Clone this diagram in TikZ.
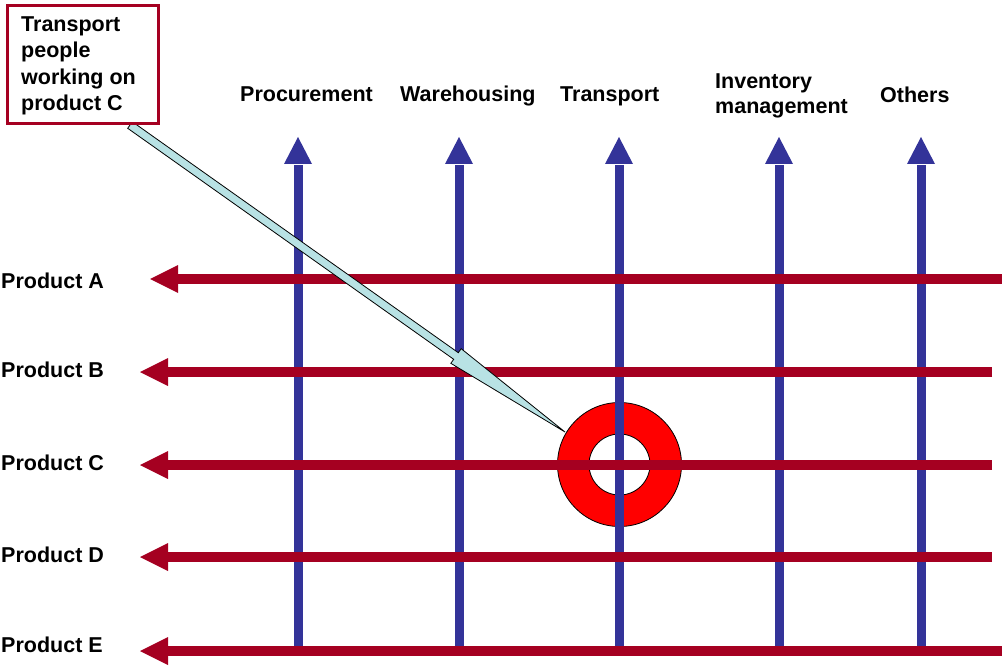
\documentclass[tikz,border=0pt]{standalone}
\usepackage{fontspec}
\setmainfont{Liberation Sans}
\definecolor{gridblue}{HTML}{333399}
\definecolor{gridred}{HTML}{A50021}
\definecolor{callfill}{HTML}{B8E2E4}
\begin{document}
\begin{tikzpicture}[x=1pt,y=-1pt,
  lbl/.style={font=\fontsize{21.5}{26}\selectfont\bfseries, inner sep=0pt},
  vshaft/.style={draw=gridblue, line width=9pt},
  hshaft/.style={draw=gridred, line width=9.5pt}]
\useasboundingbox (0,0) rectangle (1002,666);
% ring
\coordinate (ring) at (619.5,464.5);
\draw[fill=red, even odd rule, line width=0.8pt] (ring) circle[radius=62] (ring) circle[radius=30.5];
% vertical arrows
\foreach \name/\x in {proc/298, ware/459, trans/619, inv/779, oth/921} {
  \coordinate (\name-bot) at (\x,647);
  \coordinate (\name-base) at (\x,164);
  \coordinate (\name-tip) at (\x,137);
  \draw[vshaft] (\name-bot) -- ([yshift=-1pt]\name-base);
  \fill[gridblue] ([xshift=-14pt]\name-base) -- (\name-tip) -- ([xshift=14pt]\name-base) -- cycle;
}
% horizontal arrows
\foreach \name/\y/\r/\t/\b in {A/279/1002/150/288, B/372/992/140/377, C/465/992/140/470, D/557/992/140/562, E/651/1002/140/652} {
  \coordinate (r\name-end) at (\r,\y);
  \coordinate (r\name-tip) at (\t,\y);
  \coordinate (r\name-base) at (\t+28,\y);
  \draw[hshaft] (r\name-end) -- ([xshift=-1pt]r\name-base);
  \fill[gridred] ([yshift=-14pt]r\name-base) -- (r\name-tip) -- ([yshift=14pt]r\name-base) -- cycle;
  \node[lbl, anchor=base west] (lab\name) at (1,\b) {Product \name};
}
% column labels
\node[lbl, anchor=base west] (lproc) at (240,102) {Procurement};
\node[lbl, anchor=base west] (lware) at (400,102) {Warehousing};
\node[lbl, anchor=base west] (ltrans) at (560,102) {Transport};
\node[lbl, anchor=base west] (linv1) at (715,89) {Inventory};
\node[lbl, anchor=base west] (linv2) at (715,114) {management};
\node[lbl, anchor=base west] (loth) at (880,102.5) {Others};
% callout pointer
\coordinate (ptip) at (565,432);
\draw[fill=callfill, line width=0.8pt, line join=miter]
  (127.7,128.3) -- (132.3,121.7) -- (458.3,352.7) -- (461.2,348.7) -- (ptip)
  -- (450.8,363.3) -- (453.7,359.3) -- cycle;
% callout box
\node[draw=gridred, line width=2.6pt, fill=white, anchor=north west,
      minimum width=151pt, minimum height=118pt, inner sep=0pt] (box) at (6.3,4.3) {};
\node[lbl, anchor=base west] (bt1) at (21,32) {Transport};
\node[lbl, anchor=base west] (bt2) at (21,58) {people};
\node[lbl, anchor=base west] (bt3) at (21,84.5) {working on};
\node[lbl, anchor=base west] (bt4) at (21,110.5) {product C};
\end{tikzpicture}
\end{document}
